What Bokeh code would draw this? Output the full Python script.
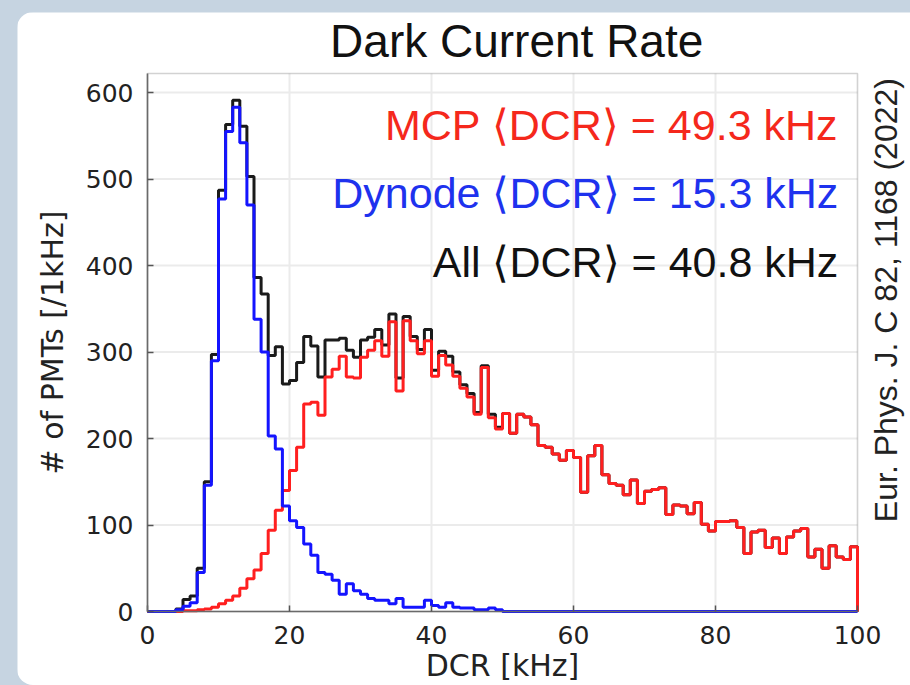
from bokeh.plotting import figure
from bokeh.models import Range1d, FixedTicker, BoxAnnotation
from bokeh.layouts import column
from bokeh.embed import file_html
from bokeh.resources import INLINE
from bokeh.core.properties import value

# ---- data (1 kHz bins, 0..100 kHz) ----
bin_edges = list(range(0, 101))

mcp = [0, 0, 0, 0, 0, 1, 1, 2, 3, 5,
       9, 13, 18, 27, 38, 48, 67, 94, 117, 140,
       163, 190, 240, 242, 227, 271, 280, 295, 271, 270,
       294, 302, 313, 295, 335, 255, 336, 313, 298, 313,
       272, 296, 285, 272, 258, 248, 228, 282, 224, 211,
       229, 206, 228, 225, 216, 192, 190, 182, 175, 186,
       178, 138, 180, 192, 158, 148, 146, 135, 152, 125,
       139, 141, 143, 112, 123, 122, 113, 126, 101, 93,
       104, 104, 105, 97, 67, 92, 94, 74, 85, 67,
       86, 93, 96, 63, 72, 50, 76, 63, 60, 75]

dynode = [0, 0, 0, 0, 2, 6, 10, 45, 146, 290,
          477, 555, 583, 542, 470, 338, 300, 203, 188, 122,
          105, 97, 78, 65, 45, 43, 36, 20, 32, 24,
          20, 15, 13, 13, 9, 15, 5, 5, 5, 13,
          7, 5, 10, 5, 4, 4, 2, 2, 4, 2,
          0, 0, 0, 0, 0, 0, 0, 0, 0, 0,
          0, 0, 0, 0, 0, 0, 0, 0, 0, 0,
          0, 0, 0, 0, 0, 0, 0, 0, 0, 0,
          0, 0, 0, 0, 0, 0, 0, 0, 0, 0,
          0, 0, 0, 0, 0, 0, 0, 0, 0, 0]

all_pmts = [0, 0, 0, 0, 3, 14, 18, 50, 150, 297,
            487, 563, 591, 561, 503, 386, 367, 296, 306, 263,
            267, 288, 318, 307, 271, 314, 314, 316, 302, 294,
            314, 317, 326, 308, 344, 270, 341, 318, 303, 326,
            279, 301, 295, 277, 262, 252, 230, 284, 228, 213,
            229, 206, 228, 225, 216, 192, 190, 182, 175, 186,
            178, 138, 180, 192, 158, 148, 146, 135, 152, 125,
            139, 141, 143, 112, 123, 122, 113, 126, 101, 93,
            104, 104, 105, 97, 67, 92, 94, 74, 85, 67,
            86, 93, 96, 63, 72, 50, 76, 63, 60, 75]

x_ticks = [0, 20, 40, 60, 80, 100]
y_ticks = [0, 100, 200, 300, 400, 500, 600]
x_axis_span = (0, 100)
y_axis_span = (0, 622)

title_text = "Dark Current Rate"
x_label = "DCR [kHz]"
y_label = "# of PMTs [/1kHz]"
mcp_text = "MCP \u27e8DCR\u27e9 = 49.3 kHz"
dyn_text = "Dynode \u27e8DCR\u27e9 = 15.3 kHz"
all_text = "All \u27e8DCR\u27e9 = 40.8 kHz"
citation = "Eur. Phys. J. C 82, 1168 (2022)"

RED = "#ff1f1f"
BLUE = "#1414ff"
BLACK = "#1a1a1a"
FRAME = "#6a6a6a"
GRID = "#ebebeb"
PANEL_BG = "#c6d4e1"

# The drawing area covers the whole white panel; the axes sit at x=0 / y=0
# and the visible frame (0..100 kHz, 0..622) is drawn as a box, so every
# text can be placed inside the drawing area.
PLOT_W, PLOT_H = 893, 673
ORIGIN_PX = (130, 599)          # where (0, 0) sits, from the panel's top-left
PX_PER_KHZ = 7.1
PX_PER_COUNT = 0.865

x_range = Range1d(-ORIGIN_PX[0] / PX_PER_KHZ, (PLOT_W - ORIGIN_PX[0]) / PX_PER_KHZ)
y_range = Range1d(-(PLOT_H - ORIGIN_PX[1]) / PX_PER_COUNT, ORIGIN_PX[1] / PX_PER_COUNT)

p = figure(width=PLOT_W, height=PLOT_H, output_backend="svg", toolbar_location=None,
           title_location=None, x_range=x_range, y_range=y_range, min_border=0)
p.margin = (12, 0, 0, 17)
p.styles = {"border-radius": "16px 0 0 16px", "overflow": "hidden"}
p.background_fill_color = "white"
p.border_fill_color = "white"
p.outline_line_color = None
p.grid.visible = False

# grid lines limited to the frame, at the tick positions
inner_x = [t for t in x_ticks if x_axis_span[0] < t < x_axis_span[1]]
inner_y = [t for t in y_ticks if y_axis_span[0] < t < y_axis_span[1]]
p.segment(x0=inner_x, x1=inner_x, y0=[y_axis_span[0]] * len(inner_x),
          y1=[y_axis_span[1]] * len(inner_x), line_color=GRID, line_width=2,
          level="underlay")
p.segment(x0=[x_axis_span[0]] * len(inner_y), x1=[x_axis_span[1]] * len(inner_y),
          y0=inner_y, y1=inner_y, line_color=GRID, line_width=2,
          level="underlay")

p.add_layout(BoxAnnotation(left=x_axis_span[0], right=x_axis_span[1],
                           bottom=y_axis_span[0], top=y_axis_span[1],
                           fill_color=None, line_color=FRAME, line_width=1.6,
                           level="underlay"))


def step_y(counts):
    return list(counts) + [0]


p.step(x=bin_edges, y=step_y(all_pmts), mode="after", line_color=BLACK, line_width=3)
p.step(x=bin_edges, y=step_y(mcp), mode="after", line_color=RED, line_width=3)
p.step(x=bin_edges, y=step_y(dynode), mode="after", line_color=BLUE, line_width=3)

p.xaxis.ticker = FixedTicker(ticks=x_ticks)
p.yaxis.ticker = FixedTicker(ticks=y_ticks)
p.xaxis.fixed_location = 0
p.yaxis.fixed_location = 0
p.xaxis.bounds = x_axis_span
p.yaxis.bounds = y_axis_span
p.axis.major_tick_in = 6
p.axis.major_tick_out = 0
p.axis.minor_tick_line_color = None
p.axis.axis_line_color = FRAME
p.axis.axis_line_width = 1.6
p.axis.major_tick_line_color = "#555555"
p.axis.major_tick_line_width = 1.5
p.axis.major_label_text_font = "DejaVu Sans"
p.axis.major_label_text_font_size = "25px"
p.axis.major_label_text_color = "#222222"
p.xaxis.major_label_standoff = 14
p.yaxis.major_label_standoff = 14

TXT = dict(text_baseline="middle", text_font=value("Liberation Sans"))
AX = dict(text_baseline="middle", text_font=value("DejaVu Sans"),
          text_align="center", text_font_size="30px", text_color="#222222")

p.text(x=[50], y=[-63], text=[x_label], **AX)
p.text(x=[-13.4], y=[311], text=[y_label], angle=90, angle_units="deg", **AX)

p.text(x=[52], y=[660], text=[title_text], text_align="center",
       text_font_size="46px", text_color="#111111", **TXT)
p.text(x=[97.3], y=[562], text=[mcp_text], text_align="right",
       text_font_size="43px", text_color="#f5281c", **TXT)
p.text(x=[97.3], y=[484], text=[dyn_text], text_align="right",
       text_font_size="43px", text_color="#1e32ee", **TXT)
p.text(x=[97.3], y=[404], text=[all_text], text_align="right",
       text_font_size="43px", text_color="#111111", **TXT)
p.text(x=[104.0], y=[360], text=[citation], text_align="center",
       angle=90, angle_units="deg", text_font_size="32px",
       text_color="#222222", **TXT)

layout = column(p, styles={"background-color": PANEL_BG})

open("out.html", "w").write(file_html(layout, INLINE))
